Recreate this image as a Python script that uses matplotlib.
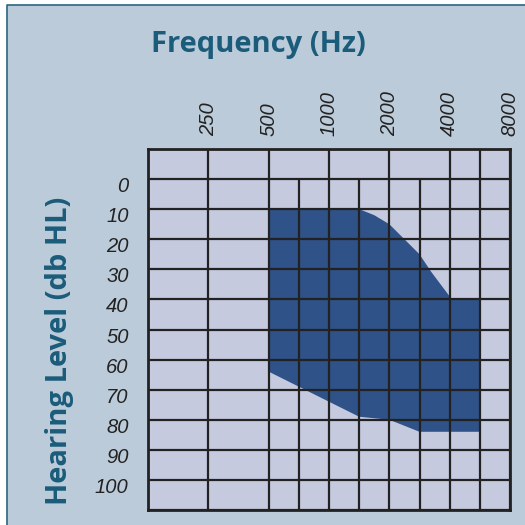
import numpy as np
import matplotlib
matplotlib.use("Agg")
import matplotlib.pyplot as plt
import matplotlib.transforms as mtransforms
from matplotlib.patches import Rectangle

# audiogram frequencies (Hz) and hearing levels (dB HL)
audio_freqs = [125, 250, 500, 750, 1000, 1500, 2000, 3000, 4000, 6000, 8000]
freq_labels = [250, 500, 1000, 2000, 4000, 8000]
octave_lines = [125, 250, 500, 1000, 2000, 4000, 6000, 8000]
half_lines = [750, 1500, 3000]
levels = list(range(0, 101, 10))

# outline of the shaded hearing-loss area
area_freq = [500, 1500, 1750, 2000, 2250, 2500, 3000, 3400, 4000, 4000, 6000,
             6000, 3000, 2000, 1500, 1000, 750, 500]
area_db = [10, 10, 12, 15, 17.5, 20, 25, 31, 39, 40, 40,
           84, 84, 80, 79, 74, 69, 64]

panel_bg = "#bccbd9"
cell_bg = "#c5cadf"
fill_col = "#2f5288"
text_blue = "#1b5c7a"
line_col = "#222222"

# audiogram spacing: one step per octave, half-octaves in the middle
grid_pos = [0, 1, 2, 2.5, 3, 3.5, 4, 4.5, 5, 5.5, 6]


def fwd(f):
    return np.interp(f, audio_freqs, grid_pos)


def inv(p):
    return np.interp(p, grid_pos, audio_freqs)


fig = plt.figure(figsize=(5.25, 5.25), dpi=100)
fig.patch.set_facecolor("white")

# light blue panel with dark edge on the top and left
fig.patches.append(Rectangle((7 / 525, 0), 1, 1 - 5 / 525, transform=fig.transFigure,
                             facecolor=panel_bg, edgecolor="none", zorder=0))
fig.lines.append(plt.Line2D([7 / 525, 7 / 525, 1], [0, 1 - 5 / 525, 1 - 5 / 525],
                            transform=fig.transFigure, color="#2a6683", lw=1.2))

ax = fig.add_axes([148 / 525, 15 / 525, 362 / 525, 361 / 525])
ax.set_zorder(5)
ax.set_facecolor(cell_bg)
ax.set_xscale("function", functions=(fwd, inv))
ax.set_xlim(125, 8000)
ax.set_ylim(110, -10)

ax.fill(area_freq, area_db, color=fill_col, lw=0, zorder=1)

ax.vlines(octave_lines, -10, 110, color=line_col, lw=1.6, zorder=3)
ax.vlines(half_lines, 0, 110, color=line_col, lw=1.6, zorder=3)
ax.hlines(list(range(-10, 111, 10)), 125, 8000, color=line_col, lw=1.6, zorder=3)
for s in ax.spines.values():
    s.set_color(line_col)
    s.set_linewidth(2)
    s.set_zorder(4)

ax.xaxis.tick_top()
ax.set_xticks(freq_labels)
ax.set_xticklabels([str(f) for f in freq_labels], rotation=90,
                   fontsize=14.5, fontstyle="italic", family="Liberation Sans", color="#222222")
ax.xaxis.set_minor_locator(plt.NullLocator())
ax.tick_params(axis="x", length=0, pad=9)

ax.set_yticks(levels)
ax.set_yticklabels([str(v) for v in levels], fontsize=14.5, fontstyle="italic",
                   family="Liberation Sans", color="#222222")
ax.yaxis.set_minor_locator(plt.NullLocator())
ax.tick_params(axis="y", length=0, pad=14)
shift = mtransforms.ScaledTranslation(0, -4 / 72, fig.dpi_scale_trans)
for lab in ax.get_yticklabels():
    lab.set_transform(lab.get_transform() + shift)

fig.text(258 / 525, 1 - 52 / 525, "Frequency (Hz)", ha="center", va="baseline",
         fontsize=21, fontweight="bold", family="Open Sans", color=text_blue)
fig.text(60 / 525, 1 - 351 / 525, "Hearing Level (db HL)", ha="center", va="center",
         rotation=90, fontsize=21, fontweight="bold", family="Open Sans", color=text_blue)

fig.savefig("out.png", dpi=100, facecolor=fig.get_facecolor())
